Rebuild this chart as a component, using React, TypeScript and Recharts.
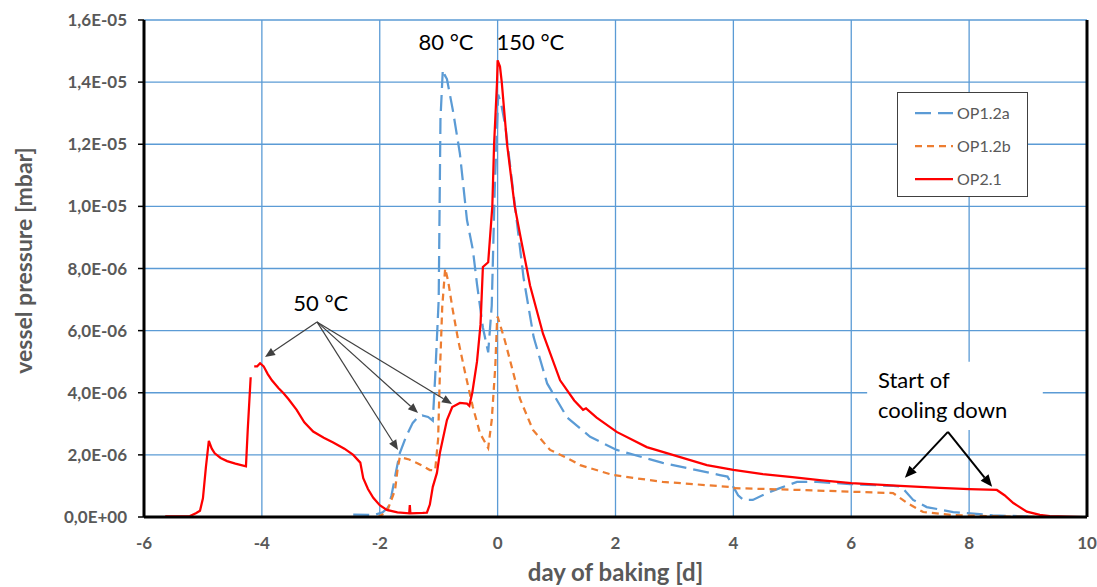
import React from 'react';
import {
  LineChart,
  Line,
  XAxis,
  YAxis,
  CartesianGrid,
  Legend,
  ReferenceLine,
  ReferenceDot,
  ReferenceArea,
} from 'recharts';

const FONT = 'Lato, "Liberation Sans", Arial, sans-serif';
const GREY = '#595959';

// all pressure values below are in units of 1E-06 mbar
const xTicks = [-6, -4, -2, 0, 2, 4, 6, 8, 10];
const yTicks = [0, 2, 4, 6, 8, 10, 12, 14, 16];
const yTickLabels = ['0,0E+00', '2,0E-06', '4,0E-06', '6,0E-06', '8,0E-06', '1,0E-05', '1,2E-05', '1,4E-05', '1,6E-05'];

const op12aDays = [
  -2.45, -2.1, -1.95, -1.86, -1.8, -1.73, -1.66, -1.55, -1.44, -1.36, -1.28, -1.18, -1.1, -1.06, -1.0, -0.97,
  -0.93, -0.89, -0.86, -0.76, -0.64, -0.52, -0.42, -0.35, -0.25, -0.16, -0.1, -0.05, 0.01, 0.06, 0.13, 0.27,
  0.44, 0.61, 0.84, 1.18, 1.57, 2.02, 2.8, 3.4, 3.77, 3.9, 4.0, 4.08, 4.17, 4.33, 4.57, 4.79, 5.08, 5.42, 5.98,
  6.71, 6.85, 7.05, 7.28, 7.73, 8.13, 8.4, 9.0,
];
const op12aPressure = [
  0.08, 0.06, 0.15, 0.3, 0.7, 1.4, 2.06, 2.6, 3.03, 3.2, 3.27, 3.22, 3.1, 4.5, 7.0, 12.8,
  14.4, 14.2, 14.1, 13.1, 11.7, 9.56, 8.6, 7.5, 6.1, 5.3, 6.8, 10.5, 13.6, 13.3, 12.6, 10.4,
  7.7, 5.8, 4.3, 3.2, 2.58, 2.16, 1.74, 1.5, 1.35, 1.3, 0.97, 0.7, 0.55, 0.55, 0.77, 0.93, 1.13, 1.13, 1.06,
  1.0, 0.98, 0.55, 0.32, 0.16, 0.1, 0.05, 0.02,
];

const op12bDays = [
  -2.45, -2.03, -1.88, -1.74, -1.7, -1.66, -1.5, -1.37, -1.25, -1.15, -1.06, -1.01, -0.98, -0.94, -0.89, -0.84,
  -0.77, -0.67, -0.55, -0.42, -0.3, -0.16, -0.1, -0.04, -0.01, 0.0, 0.12, 0.21, 0.38, 0.6, 0.89, 1.18, 1.4,
  1.96, 2.8, 3.94, 4.0, 5.13, 6.71, 6.95, 7.22, 7.73, 8.5, 9.4,
];
const op12bPressure = [
  0.0, 0.0, 0.16, 0.87, 1.5, 1.93, 1.85, 1.74, 1.62, 1.51, 1.5, 2.5, 4.6, 6.76, 8.0, 7.6,
  6.76, 5.7, 4.63, 3.54, 2.7, 2.22, 3.12, 4.83, 6.3, 6.45, 5.7, 5.05, 3.8, 2.8, 2.16, 1.9, 1.67,
  1.35, 1.13, 0.97, 0.93, 0.87, 0.77, 0.45, 0.16, 0.06, 0.02, 0.0,
];

const op21Days = [
  -5.64, -5.22, -5.12, -5.05, -5.0, -4.95, -4.9, -4.85, -4.8, -4.7, -4.59, -4.45, -4.27, -4.24, -4.19, -4.16,
  -4.13, -4.08, -4.03, -3.97, -3.9, -3.83, -3.72, -3.64, -3.55, -3.41, -3.28, -3.13, -2.95, -2.79, -2.6, -2.45,
  -2.33, -2.28, -2.2, -2.11, -2.0, -1.88, -1.7, -1.5, -1.49, -1.48, -1.27, -1.2, -1.15, -1.1, -1.03, -0.98,
  -0.86, -0.77, -0.64, -0.52, -0.48, -0.43, -0.35, -0.29, -0.25, -0.16, -0.09, -0.06, -0.01, 0.0, 0.04, 0.07,
  0.16, 0.29, 0.4, 0.5, 0.55, 0.77, 1.06, 1.3, 1.45, 1.5, 1.68, 2.02, 2.53, 2.97, 3.55, 4.0, 4.5, 5.0, 5.5,
  6.0, 6.83, 7.5, 8.0, 8.47, 8.6, 8.75, 8.98, 9.2, 9.37, 9.93,
];
const op21Pressure = [
  0.02, 0.03, 0.12, 0.2, 0.6, 1.6, 2.45, 2.2, 2.05, 1.9, 1.8, 1.72, 1.63, 2.8, 4.5, null,
  4.85, 4.85, 4.95, 4.85, 4.6, 4.4, 4.15, 4.0, 3.8, 3.45, 3.05, 2.75, 2.55, 2.4, 2.2, 2.0,
  1.75, 1.25, 0.9, 0.62, 0.38, 0.23, 0.15, 0.12, 0.38, 0.12, 0.13, 0.14, 0.4, 0.97, 1.42, 2.06,
  3.12, 3.54, 3.67, 3.65, 3.58, 4.0, 5.0, 6.2, 8.05, 8.2, 10.0, 12.0, 14.0, 14.7, 14.5, 14.0,
  12.0, 10.0, 8.9, 7.95, 7.45, 5.9, 4.4, 3.75, 3.45, 3.5, 3.2, 2.74, 2.25, 2.0, 1.67, 1.52, 1.38, 1.28, 1.18,
  1.09, 1.0, 0.94, 0.9, 0.87, 0.7, 0.45, 0.17, 0.07, 0.03, 0.0,
];

const toPoints = (days: number[], pressure: (number | null)[]) => days.map((x, i) => ({ x, y: pressure[i] }));

const series = [
  { name: 'OP1.2a', data: toPoints(op12aDays, op12aPressure), color: '#5B9BD5', dash: '16 7' },
  { name: 'OP1.2b', data: toPoints(op12bDays, op12bPressure), color: '#ED7D31', dash: '7 5' },
  { name: 'OP2.1', data: toPoints(op21Days, op21Pressure), color: '#FF0000', dash: undefined },
];

// text notes, in data coordinates
const notes = [
  { text: '80 °C', x: -0.876, y: 15.28, position: 'center' },
  { text: '150 °C', x: 0.557, y: 15.28, position: 'center' },
  { text: '50 °C', x: -3.0, y: 6.89, position: 'center' },
  { text: 'Start of', x: 6.453, y: 4.41, position: 'right' },
  { text: 'cooling down', x: 6.453, y: 3.445, position: 'right' },
];

// arrows, from the note towards the curve
const arrows = [
  { from: [-3.065, 6.28], to: [-3.947, 5.15], color: '#404040', width: 1.2, head: 10 },
  { from: [-3.065, 6.28], to: [-1.69, 2.16], color: '#404040', width: 1.2, head: 10 },
  { from: [-3.065, 6.28], to: [-1.35, 3.35], color: '#404040', width: 1.2, head: 10 },
  { from: [-3.065, 6.28], to: [-0.774, 3.64], color: '#404040', width: 1.2, head: 10 },
  { from: [7.64, 2.74], to: [6.91, 1.26], color: '#000', width: 2, head: 12 },
  { from: [7.64, 2.74], to: [8.39, 0.97], color: '#000', width: 2, head: 12 },
];

const arrowShape = (color: string, width: number, head: number) => (p: any) => {
  const { x1, y1, x2, y2 } = p;
  const a = Math.atan2(y2 - y1, x2 - x1);
  const bx = x2 - head * Math.cos(a);
  const by = y2 - head * Math.sin(a);
  const w = head * 0.42;
  const pts = `${x2},${y2} ${bx + w * Math.sin(a)},${by - w * Math.cos(a)} ${bx - w * Math.sin(a)},${by + w * Math.cos(a)}`;
  return (
    <g>
      <line x1={x1} y1={y1} x2={bx} y2={by} stroke={color} strokeWidth={width} />
      <polygon points={pts} fill={color} />
    </g>
  );
};

const LegendBox = () => (
  <div
    style={{
      background: '#fff',
      border: '1px solid #404040',
      width: 131,
      height: 105,
      boxSizing: 'border-box',
      padding: '3px 0 0 17px',
      fontFamily: FONT,
    }}
  >
    {series.map((s) => (
      <div key={s.name} style={{ display: 'flex', alignItems: 'center', height: 33 }}>
        <svg width={38} height={10}>
          <line x1={0} y1={5} x2={38} y2={5} stroke={s.color} strokeWidth={2.25} strokeDasharray={s.dash} />
        </svg>
        <span style={{ marginLeft: 4, fontSize: 16, color: GREY }}>{s.name}</span>
      </div>
    ))}
  </div>
);

const tickStyle = { fill: GREY, fontSize: 17, fontWeight: 700, fontFamily: FONT };

export default function App() {
  return (
    <div style={{ width: 1097, height: 587 }}>
      <style>{'body{margin:0}'}</style>
      <LineChart width={1097} height={587} margin={{ top: 20, right: 0, bottom: 0, left: 0 }} style={{ fontFamily: FONT }}>
        <CartesianGrid stroke="#5B9BD5" strokeWidth={1.3} />
        <ReferenceArea x1={6.27} x2={9.25} y1={2.8} y2={5.0} fill="#fff" fillOpacity={1} stroke="none" />
        <XAxis
          type="number"
          dataKey="x"
          domain={[-6, 10]}
          ticks={xTicks}
          allowDataOverflow
          height={70}
          tickLine={false}
          tickSize={6}
          tickMargin={14}
          tick={tickStyle}
          axisLine={{ stroke: '#000', strokeWidth: 3 }}
          label={{
            value: 'day of baking [d]',
            position: 'insideBottom',
            offset: 6,
            fill: GREY,
            fontSize: 24,
            fontWeight: 700,
            fontFamily: FONT,
          }}
        />
        <XAxis
          xAxisId="top"
          orientation="top"
          type="number"
          domain={[-6, 10]}
          height={0}
          tick={false}
          tickLine={false}
          axisLine={{ stroke: '#000', strokeWidth: 3 }}
        />
        <YAxis
          type="number"
          domain={[0, 16]}
          ticks={yTicks}
          allowDataOverflow
          width={144}
          tickSize={6}
          tickMargin={11}
          tick={tickStyle}
          tickFormatter={(v: number, i: number) => yTickLabels[i]}
          tickLine={{ stroke: '#000', strokeWidth: 1.5 }}
          axisLine={{ stroke: '#000', strokeWidth: 3 }}
          label={{
            value: 'vessel pressure [mbar]',
            angle: -90,
            position: 'insideLeft',
            offset: 24,
            dy: -8,
            fill: GREY,
            fontSize: 23,
            fontWeight: 700,
            fontFamily: FONT,
            style: { textAnchor: 'middle' },
          }}
        />
        <YAxis
          yAxisId="right"
          orientation="right"
          type="number"
          domain={[0, 16]}
          width={10}
          tick={false}
          tickLine={false}
          axisLine={{ stroke: '#000', strokeWidth: 3 }}
        />
        {series.map((s) => (
          <Line
            key={s.name}
            name={s.name}
            data={s.data}
            dataKey="y"
            type="linear"
            stroke={s.color}
            strokeWidth={2.25}
            strokeDasharray={s.dash}
            dot={false}
            activeDot={false}
            isAnimationActive={false}
          />
        ))}
        {arrows.map((a, i) => (
          <ReferenceLine
            key={`arrow-${i}`}
            segment={[
              { x: a.from[0], y: a.from[1] },
              { x: a.to[0], y: a.to[1] },
            ]}
            ifOverflow="visible"
            shape={arrowShape(a.color, a.width, a.head)}
          />
        ))}
        {notes.map((n) => (
          <ReferenceDot
            key={n.text}
            x={n.x}
            y={n.y}
            r={0}
            fill="none"
            stroke="none"
            ifOverflow="visible"
            label={{
              value: n.text,
              position: n.position as any,
              offset: 0,
              fill: '#000',
              fontSize: 22,
              fontFamily: FONT,
            }}
          />
        ))}
        <Legend
          layout="vertical"
          align="center"
          verticalAlign="middle"
          content={() => <LegendBox />}
          wrapperStyle={{ left: 897, top: 92, width: 131 }}
        />
      </LineChart>
    </div>
  );
}
